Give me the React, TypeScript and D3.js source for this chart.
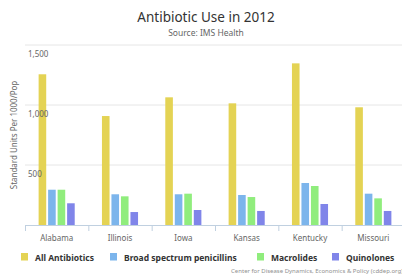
import React from 'react';
import * as d3 from 'd3';

const states = ['Alabama', 'Illinois', 'Iowa', 'Kansas', 'Kentucky', 'Missouri'];
const seriesNames = ['All Antibiotics', 'Broad spectrum penicillins', 'Macrolides', 'Quinolones'];
const allAntibiotics = [1256, 908, 1064, 1014, 1347, 981];
const broadPenicillins = [294, 256, 256, 250, 350, 261];
const macrolides = [294, 239, 261, 233, 325, 222];
const quinolones = [181, 108, 125, 117, 175, 117];
const yTicks = [0, 500, 1000, 1500];
const colors = ['#e4d354', '#7cb5ec', '#90ed7d', '#8085e9'];

const W = 402;
const H = 275;
const margin = { top: 45, right: -3, bottom: 50, left: 25 };
const font = '"Noto Sans", "Lucida Grande", sans-serif';

const App: React.FC = () => {
  const values = [allAntibiotics, broadPenicillins, macrolides, quinolones];
  const plotW = W - margin.left - margin.right;
  const plotH = H - margin.top - margin.bottom;

  const x = d3.scaleBand<string>().domain(states).range([0, plotW]).padding(0);
  const bw = x.bandwidth();
  const inner = d3
    .scaleBand<number>()
    .domain(d3.range(seriesNames.length))
    .range([bw * 0.2, bw * 0.8])
    .paddingInner(0.2)
    .paddingOuter(0.1);
  const y = d3.scaleLinear().domain([0, 1500]).range([plotH, 0]);

  // legend item positions (measured from reference)
  const legendX = [21, 110, 257, 332];

  return (
    <svg width={W} height={H} style={{ position: 'absolute', left: 0, top: 0, background: '#fff' }}>
      <text x={206} y={22} textAnchor="middle" fontFamily={font} fontSize={13.5} fill="#333">
        Antibiotic Use in 2012
      </text>
      <text x={206} y={36} textAnchor="middle" fontFamily={font} fontSize={8.5} fill="#666">
        Source: IMS Health
      </text>
      <g transform={`translate(${margin.left},${margin.top})`}>
        {yTicks.filter((t) => t > 0).map((t) => (
          <line key={t} x1={0} x2={plotW} y1={y(t)} y2={y(t)} stroke="#e6e6e6" strokeWidth={1} />
        ))}
        {states.map((s, i) => (
          <g key={s} transform={`translate(${x(s)},0)`}>
            {values.map((v, j) => (
              <rect
                key={j}
                x={inner(j)}
                y={y(v[i])}
                width={inner.bandwidth()}
                height={plotH - y(v[i])}
                fill={colors[j]}
              />
            ))}
          </g>
        ))}
        {yTicks.filter((t) => t > 0).map((t) => (
          <text key={t} x={3} y={y(t) + 11.5} fontFamily={font} fontSize={8} fill="#666">
            {d3.format(',')(t)}
          </text>
        ))}
        <line x1={0} x2={plotW} y1={plotH + 0.5} y2={plotH + 0.5} stroke="#C0D0E0" />
        {states.map((s) => (
          <g key={s}>
            <line x1={x(s)! + 0.5} x2={x(s)! + 0.5} y1={plotH} y2={plotH + 6} stroke="#C0D0E0" />
            <text x={x(s)! + bw / 2} y={plotH + 16} textAnchor="middle" fontFamily={font} fontSize={8} fill="#666">
              {s}
            </text>
          </g>
        ))}
        <text
          transform={`translate(${14 - margin.left},${plotH / 2}) rotate(-90)`}
          textAnchor="middle"
          dy="0.35em"
          fontFamily={font}
          fontSize={8}
          fill="#666"
        >
          Standard Units Per 1000/Pop
        </text>
      </g>
      {seriesNames.map((n, j) => (
        <g key={n} transform={`translate(${legendX[j]},253)`}>
          <rect x={0} y={0} width={7} height={7.5} fill={colors[j]} />
          <text x={14} y={7.5} fontFamily={font} fontSize={8.5} fontWeight="bold" fill="#333">
            {n}
          </text>
        </g>
      ))}
      <text x={403} y={273} textAnchor="end" fontFamily={font} fontSize={6} fill="#909090">
        Center for Disease Dynamics, Economics &amp; Policy (cddep.org)
      </text>
    </svg>
  );
};

export default App;
